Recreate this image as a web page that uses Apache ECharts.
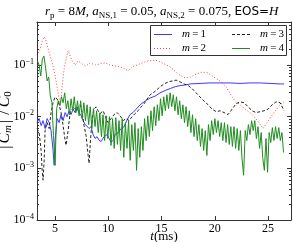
<!DOCTYPE html>
<html><head><meta charset="utf-8">
<script src="https://cdn.jsdelivr.net/npm/echarts@6/dist/echarts.min.js"></script>
<style>html,body{margin:0;padding:0;background:#fff}#c{width:293px;height:242px}</style>
</head><body><div id="c"></div>
<script>
// ---- data (t in ms, |C_m|/C_0) ----
const seriesNames = ['m = 1', 'm = 2', 'm = 3', 'm = 4'];
const xTickValues = [5, 10, 15, 20, 25];
const yTickValues = [1e-4, 1e-3, 1e-2, 1e-1];
const yTickExponents = ['\u22124', '\u22123', '\u22122', '\u22121'];
const yMinorTicks = [2e-4,3e-4,4e-4,5e-4,6e-4,7e-4,8e-4,9e-4,
  2e-3,3e-3,4e-3,5e-3,6e-3,7e-3,8e-3,9e-3,
  2e-2,3e-2,4e-2,5e-2,6e-2,7e-2,8e-2,9e-2,
  2e-1,3e-1,4e-1,5e-1,6e-1];

const m1 = [[3.31,0.0077],[3.5,0.0092],[3.69,0.0067],[3.87,0.0084],[4.06,0.0059],[4.25,0.0092],[4.44,0.0077],[4.62,0.0054],[4.81,0.0022],[4.91,0.00115],[5.0,0.0035],[5.19,0.0092],[5.38,0.0077],[5.56,0.011],[5.75,0.0084],[5.94,0.012],[6.13,0.01],[6.31,0.013],[6.5,0.011],[6.69,0.014],[6.88,0.012],[7.07,0.014],[7.25,0.012],[7.44,0.0105],[7.63,0.0084],[7.82,0.0071],[8.0,0.0077],[8.19,0.0059],[8.38,0.0064],[8.57,0.0045],[8.75,0.0038],[8.94,0.0041],[9.13,0.0035],[9.32,0.0033],[9.6,0.0041],[9.88,0.0045],[10.07,0.0038],[10.26,0.0032],[10.45,0.0035],[10.63,0.0045],[10.92,0.0049],[11.2,0.0059],[11.48,0.0064],[11.76,0.0087],[12.04,0.011],[12.32,0.012],[12.61,0.014],[12.98,0.017],[13.45,0.02],[13.92,0.023],[14.39,0.025],[14.86,0.029],[15.33,0.032],[15.8,0.035],[16.27,0.038],[16.74,0.04],[17.21,0.041],[17.68,0.043],[18.61,0.044],[19.55,0.045],[20.49,0.045],[21.43,0.045],[22.37,0.044],[23.31,0.045],[24.25,0.045],[25.19,0.044],[26.13,0.043],[26.5,0.043]];

const m2 = [[3.4,0.17],[3.59,0.2],[3.78,0.29],[3.97,0.35],[4.16,0.29],[4.34,0.21],[4.53,0.15],[4.72,0.11],[4.91,0.077],[5.09,0.049],[5.28,0.029],[5.47,0.017],[5.56,0.02],[5.66,0.04],[5.85,0.084],[6.03,0.13],[6.22,0.19],[6.41,0.15],[6.6,0.12],[6.88,0.1],[7.16,0.12],[7.54,0.105],[7.91,0.096],[8.29,0.11],[8.76,0.1],[9.23,0.105],[9.7,0.11],[10.16,0.1],[10.63,0.096],[11.1,0.092],[11.57,0.084],[11.85,0.077],[12.23,0.092],[12.7,0.1],[13.17,0.11],[13.73,0.12],[14.39,0.125],[15.05,0.11],[15.8,0.092],[16.55,0.067],[17.21,0.056],[17.68,0.058],[18.24,0.067],[18.8,0.073],[19.37,0.07],[19.93,0.058],[20.49,0.049],[21.06,0.038],[21.43,0.028],[21.9,0.02],[22.37,0.017],[22.84,0.014],[23.31,0.012],[23.78,0.0095],[24.25,0.0071],[24.53,0.0059],[24.91,0.0077],[25.28,0.01],[25.75,0.0135],[26.13,0.017],[26.5,0.0195]];

const m3 = [[3.31,0.0059],[3.5,0.0049],[3.69,0.0022],[3.78,0.00092],[3.87,0.00059],[3.97,0.0014],[4.06,0.0054],[4.25,0.0077],[4.44,0.0059],[4.62,0.012],[4.81,0.0186],[5.0,0.024],[5.19,0.022],[5.38,0.017],[5.56,0.012],[5.75,0.0067],[5.94,0.0035],[6.03,0.0028],[6.22,0.0054],[6.41,0.012],[6.6,0.014],[6.78,0.0155],[6.97,0.013],[7.16,0.0155],[7.35,0.017],[7.54,0.012],[7.72,0.0067],[7.91,0.0043],[8.1,0.0018],[8.19,0.00125],[8.29,0.0028],[8.47,0.0092],[8.66,0.014],[8.85,0.0155],[9.04,0.013],[9.23,0.0115],[9.51,0.013],[9.79,0.0092],[9.98,0.0077],[10.26,0.0092],[10.54,0.011],[10.82,0.012],[11.1,0.0105],[11.39,0.0084],[11.67,0.0092],[11.95,0.0084],[12.23,0.01],[12.51,0.0115],[12.79,0.013],[13.08,0.0155],[13.36,0.0178],[13.64,0.022],[13.92,0.0265],[14.2,0.029],[14.48,0.032],[14.86,0.038],[15.23,0.043],[15.61,0.047],[15.99,0.049],[16.36,0.051],[16.74,0.047],[17.11,0.043],[17.49,0.04],[17.86,0.035],[18.24,0.029],[18.61,0.024],[18.99,0.02],[19.37,0.017],[19.74,0.014],[20.12,0.0125],[20.49,0.013],[20.87,0.012],[21.24,0.011],[21.62,0.014],[22.0,0.0178],[22.37,0.0194],[22.75,0.0186],[23.12,0.0155],[23.5,0.013],[23.87,0.012],[24.25,0.0125],[24.62,0.013],[25.0,0.014],[25.38,0.017],[25.75,0.0194],[26.13,0.0186],[26.5,0.013]];

const m4 = [[3.35,0.119],[3.5,0.1],[3.65,0.0614],[3.8,0.13],[3.95,0.149],[4.1,0.0915],[4.25,0.0492],[4.4,0.0588],[4.55,0.0254],[4.7,0.0186],[4.85,0.00431],[5.0,0.00114],[5.15,0.0143],[5.3,0.0203],[5.45,0.0163],[5.6,0.0243],[5.75,0.0186],[5.9,0.029],[6.05,0.0143],[6.2,0.0203],[6.35,0.0109],[6.5,0.0222],[6.65,0.013],[6.8,0.0243],[6.95,0.0119],[7.1,0.0203],[7.25,0.0104],[7.4,0.0203],[7.55,0.00915],[7.7,0.0186],[7.85,0.00838],[8.0,0.017],[8.15,0.00702],[8.3,0.0156],[8.45,0.00588],[8.6,0.0143],[8.75,0.00642],[8.9,0.013],[9.05,0.00492],[9.2,0.0119],[9.35,0.00412],[9.5,0.0109],[9.65,0.00345],[9.8,0.0104],[9.95,0.00377],[10.1,0.01],[10.25,0.00277],[10.4,0.00915],[10.55,0.00243],[10.7,0.00957],[10.85,0.0029],[11.0,0.00838],[11.15,0.00222],[11.3,0.00915],[11.45,0.00163],[11.6,0.00767],[11.75,0.00243],[11.9,0.00838],[12.05,0.00143],[12.2,0.00702],[12.35,0.00222],[12.5,0.00767],[12.65,0.000915],[12.8,0.00588],[12.95,0.00163],[13.1,0.00642],[13.25,0.00222],[13.4,0.00915],[13.55,0.00345],[13.7,0.0104],[13.85,0.00412],[14.0,0.013],[14.15,0.00538],[14.3,0.0156],[14.45,0.00671],[14.6,0.017],[14.75,0.00838],[14.9,0.0222],[15.05,0.0104],[15.2,0.0243],[15.35,0.013],[15.5,0.0265],[15.65,0.0143],[15.8,0.029],[15.95,0.0156],[16.1,0.0265],[16.25,0.013],[16.4,0.0243],[16.55,0.0109],[16.7,0.0203],[16.85,0.00915],[17.0,0.017],[17.15,0.00767],[17.3,0.0156],[17.45,0.00642],[17.6,0.013],[17.75,0.00492],[17.9,0.0109],[18.05,0.00412],[18.2,0.00915],[18.35,0.00345],[18.5,0.00702],[18.65,0.00265],[18.8,0.00588],[18.95,0.00222],[19.1,0.00538],[19.25,0.00178],[19.4,0.00702],[19.55,0.00345],[19.7,0.00838],[19.85,0.00451],[20.0,0.00915],[20.15,0.00492],[20.3,0.00838],[20.45,0.00412],[20.6,0.00767],[20.75,0.00345],[20.9,0.00767],[21.05,0.00316],[21.2,0.00702],[21.35,0.0029],[21.5,0.00642],[21.65,0.00265],[21.8,0.00642],[21.95,0.00243],[22.1,0.00588],[22.25,0.00222],[22.4,0.00538],[22.55,0.00156],[22.7,0.000733],[22.85,0.00538],[23.0,0.00345],[23.15,0.00702],[23.3,0.00451],[23.45,0.00838],[23.6,0.00538],[23.75,0.00838],[23.9,0.00377],[24.05,0.00642],[24.2,0.00243],[24.35,0.00492],[24.5,0.00156],[24.65,0.000915],[24.8,0.00377],[24.95,0.000838],[25.1,0.00492],[25.25,0.00316],[25.4,0.00614],[25.55,0.00345],[25.7,0.00642],[25.85,0.00377],[26.0,0.00614],[26.15,0.00345],[26.3,0.00492],[26.45,0.00203]];

// ---- chart ----
const X_MIN = 3.3, X_MAX = 27.15, Y_MIN = 1e-4, Y_MAX = 0.68;
const SERIF = 'Liberation Serif';
const AX = '#333';
const COLORS = ['#3a3aff', '#ff4040', '#222', '#1e8c1e'];
const DASHES = [null, [1, 2], [3, 2], null];
const chart = echarts.init(document.getElementById('c'), null, {renderer: 'canvas'});

const serifRich = {
  i: {fontFamily: SERIF, fontStyle: 'italic', fontWeight: 'normal', fontSize: 13, lineHeight: 16, color: '#000'},
  n: {fontFamily: SERIF, fontWeight: 'normal', fontSize: 13, lineHeight: 16, color: '#000'},
  sub: {fontFamily: SERIF, fontWeight: 'normal', fontSize: 9, lineHeight: 9, verticalAlign: 'bottom', color: '#000'},
  s: {fontFamily: 'DejaVu Sans', fontWeight: 'normal', fontSize: 12, lineHeight: 16, color: '#000'}
};
const yNameRich = {
  bar: {fontFamily: SERIF, fontSize: 16, lineHeight: 18, padding: [0, 2, 0, 2], color: '#000'},
  sl: {fontFamily: SERIF, fontSize: 16, lineHeight: 18, padding: [0, 3, 0, 3], color: '#000'},
  i: {fontFamily: SERIF, fontStyle: 'italic', fontSize: 16, lineHeight: 18, color: '#000'},
  sub: {fontFamily: SERIF, fontStyle: 'italic', fontSize: 11, lineHeight: 11, verticalAlign: 'bottom', color: '#000'},
  sub0: {fontFamily: SERIF, fontSize: 11, lineHeight: 11, verticalAlign: 'bottom', color: '#000'}
};
const legendRich = {
  i: {fontFamily: SERIF, fontStyle: 'italic', fontSize: 11, color: '#000'},
  n: {fontFamily: SERIF, fontSize: 11, color: '#000'}
};

// legend drawn as graphic: column-major (m=1, m=2 | m=3, m=4)
const legendSlots = [[154, 34.5], [154, 48.5], [232, 34.5], [232, 48.5]];
const legendGraphics = [{type: 'rect', z: 30, shape: {x: 150.5, y: 25.5, width: 136, height: 30},
  style: {fill: '#fff', stroke: AX, lineWidth: 1}}];
seriesNames.forEach((name, k) => {
  const [lx, ly] = legendSlots[k];
  legendGraphics.push({type: 'line', z: 31, shape: {x1: lx, y1: ly, x2: lx + 18, y2: ly},
    style: {stroke: COLORS[k], lineWidth: 1, lineDash: DASHES[k] || null}});
  legendGraphics.push({type: 'text', z: 31, x: lx + 28, y: ly,
    style: {text: '{i|m}{n|\u2009=\u2009' + name.slice(-1) + '}', rich: legendRich, verticalAlign: 'middle'}});
});

const isDecade = v => Math.abs(Math.log10(v) - Math.round(Math.log10(v))) < 1e-6;

chart.setOption({
  animation: false,
  title: {
    text: '{i|r}{sub|p}{n| = 8}{i|M}{n|, }{i|a}{sub|NS,1}{n| = 0.05, }{i|a}{sub|NS,2}{n| = 0.075, }{s|EOS=}{i|H}',
    left: 45, top: 4, padding: 0,
    textStyle: {fontWeight: 'normal', rich: serifRich}
  },
  grid: {left: 37, right: 2, top: 22, bottom: 22, containLabel: false, outerBoundsMode: 'none'},
  graphic: legendGraphics,
  xAxis: [{
    type: 'value', min: X_MIN, max: X_MAX, position: 'bottom',
    name: '{i|t}{n|(ms)}', nameLocation: 'middle', nameGap: 9, nameMoveOverlap: false,
    nameTextStyle: {rich: serifRich},
    axisLine: {lineStyle: {color: AX, width: 1}},
    axisTick: {inside: true, length: 4, lineStyle: {color: AX}},
    axisLabel: {margin: 3, fontFamily: SERIF, fontSize: 12, color: '#000',
      formatter: v => xTickValues.includes(Math.round(v * 1000) / 1000) ? String(v) : ''},
    splitLine: {show: false}
  }, {
    type: 'value', min: X_MIN, max: X_MAX, position: 'top',
    axisLine: {lineStyle: {color: AX, width: 1}},
    axisTick: {inside: true, length: 4, lineStyle: {color: AX}},
    axisLabel: {show: false}, splitLine: {show: false}
  }],
  yAxis: [{
    type: 'log', logBase: 10, min: Y_MIN, max: Y_MAX, position: 'left',
    name: '{bar||}{i|C}{sub|m}{bar||}{sl|/}{i|C}{sub0|0}', nameLocation: 'middle', nameGap: 23,
    nameMoveOverlap: false,
    nameTextStyle: {rich: yNameRich},
    axisLine: {show: true, lineStyle: {color: AX, width: 1}},
    axisTick: {inside: true, length: 4, lineStyle: {color: AX}},
    axisLabel: {margin: 3, formatter: v => {
        if (!isDecade(v)) return '';
        const idx = yTickValues.findIndex(t => Math.abs(Math.log10(t) - Math.log10(v)) < 1e-6);
        return idx < 0 ? '' : '{b|10}{s|' + yTickExponents[idx] + '}';
      },
      rich: {
        b: {fontFamily: SERIF, fontSize: 12, lineHeight: 15, color: '#000'},
        s: {fontFamily: SERIF, fontSize: 8, lineHeight: 8, verticalAlign: 'top', color: '#000'}
      }},
    splitLine: {show: false}
  }, {
    type: 'log', logBase: 10, min: Y_MIN, max: Y_MAX, position: 'right',
    axisLine: {show: true, lineStyle: {color: AX, width: 1}},
    axisTick: {inside: true, length: 4, lineStyle: {color: AX}},
    axisLabel: {show: false}, splitLine: {show: false}
  }],
  series: [m1, m2, m3, m4].map((d, k) => ({
    name: seriesNames[k], type: 'line', data: d, symbol: 'none', z: 2,
    lineStyle: {color: COLORS[k], width: 1, type: DASHES[k] || 'solid'},
    itemStyle: {color: COLORS[k]}
  })).concat([{
    type: 'custom', silent: true, clip: false, z: 5,
    data: yMinorTicks.map(v => [X_MIN, v]),
    renderItem: (params, api) => {
      const v = api.value(1);
      const a = api.coord([X_MIN, v]);
      const b = api.coord([X_MAX, v]);
      const y = Math.round(a[1]) + 0.5;
      return {type: 'group', children: [
        {type: 'line', shape: {x1: a[0], y1: y, x2: a[0] + 2, y2: y}, style: {stroke: AX, lineWidth: 1}},
        {type: 'line', shape: {x1: b[0] - 2, y1: y, x2: b[0], y2: y}, style: {stroke: AX, lineWidth: 1}}
      ]};
    }
  }])
});
</script>
</body></html>
